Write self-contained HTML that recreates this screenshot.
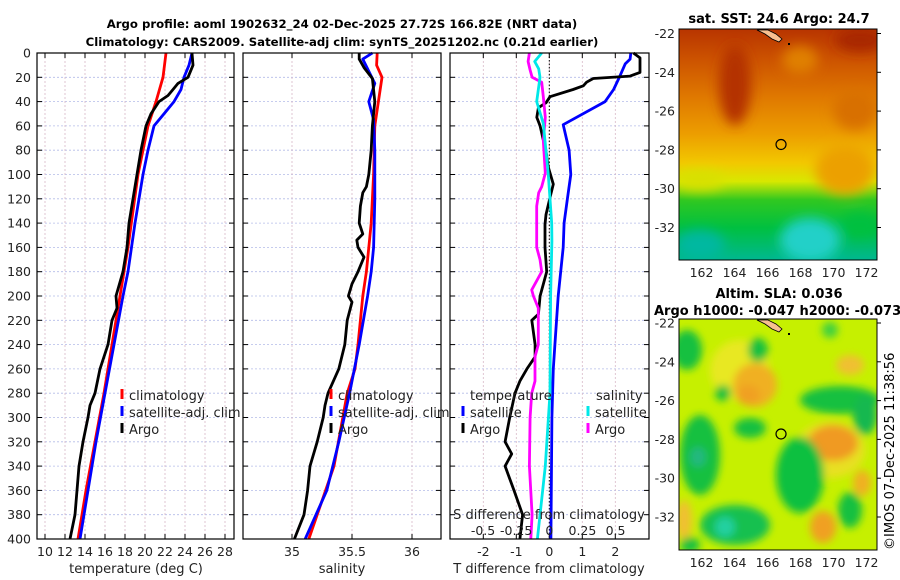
<!DOCTYPE html>
<html><head><meta charset="utf-8">
<style>
html,body{margin:0;padding:0;background:#fff;}
svg{display:block;font-family:"DejaVu Sans","Liberation Sans",sans-serif;}
</style></head>
<body>
<svg id="fig" width="900" height="580" viewBox="0 0 900 580" xmlns="http://www.w3.org/2000/svg">
<defs>
  <filter id="blur5" x="-20%" y="-20%" width="140%" height="140%"><feGaussianBlur stdDeviation="6"/></filter>
  <filter id="blur3" x="-20%" y="-20%" width="140%" height="140%"><feGaussianBlur stdDeviation="4"/></filter>
  <clipPath id="clipSST"><rect x="679" y="29" width="198" height="231"/></clipPath>
  <clipPath id="clipSLA"><rect x="679" y="319" width="198" height="231"/></clipPath>
  <linearGradient id="sstGrad" x1="0" y1="0" x2="0" y2="1">
    <stop offset="0" stop-color="#b83400"/>
    <stop offset="0.13" stop-color="#cc5200"/>
    <stop offset="0.3" stop-color="#e07a00"/>
    <stop offset="0.45" stop-color="#ec9c00"/>
    <stop offset="0.58" stop-color="#f2c800"/>
    <stop offset="0.66" stop-color="#d8e800"/>
    <stop offset="0.74" stop-color="#30c820"/>
    <stop offset="0.86" stop-color="#00c040"/>
    <stop offset="1" stop-color="#00b890"/>
  </linearGradient>
</defs>
<text x="342" y="28" text-anchor="middle" font-size="11.7" font-weight="bold">Argo profile: aoml 1902632_24 02-Dec-2025 27.72S 166.82E (NRT data)</text>
<text x="342" y="46" text-anchor="middle" font-size="11.7" font-weight="bold">Climatology: CARS2009. Satellite-adj clim: synTS_20251202.nc (0.21d earlier)</text>

<!-- SST map -->
<g clip-path="url(#clipSST)">
  <rect x="679" y="29" width="198" height="231" fill="url(#sstGrad)"/>
  <g filter="url(#blur5)">
    <ellipse cx="735" cy="85" rx="16" ry="40" fill="#b43000"/>
    <ellipse cx="860" cy="40" rx="25" ry="12" fill="#a82800"/>
    <ellipse cx="800" cy="60" rx="18" ry="14" fill="#e08000"/>
    <ellipse cx="855" cy="110" rx="22" ry="20" fill="#d87000"/>
    <ellipse cx="845" cy="170" rx="30" ry="25" fill="#eca000"/>
    <ellipse cx="700" cy="180" rx="25" ry="10" fill="#d8e000"/>
    <ellipse cx="810" cy="240" rx="30" ry="22" fill="#20d0c8"/>
    <ellipse cx="700" cy="245" rx="25" ry="15" fill="#00b8a0"/>
    <ellipse cx="860" cy="225" rx="20" ry="12" fill="#00c040"/>
  </g>
</g>
<rect x="679" y="29" width="198" height="231" fill="none" stroke="#000" stroke-width="1"/>
<text x="779" y="23" text-anchor="middle" font-size="13" font-weight="bold">sat. SST: 24.6 Argo: 24.7</text>

<!-- SLA map -->
<g clip-path="url(#clipSLA)">
  <rect x="679" y="319" width="198" height="231" fill="#c6f000"/>
  <g filter="url(#blur3)">
    <ellipse cx="740" cy="370" rx="30" ry="30" fill="#e8e820"/>
    <ellipse cx="830" cy="450" rx="35" ry="28" fill="#e8e020"/>
    <ellipse cx="755" cy="385" rx="22" ry="22" fill="#f0b020"/>
    <ellipse cx="748" cy="395" rx="12" ry="10" fill="#f0a020"/>
    <ellipse cx="850" cy="365" rx="14" ry="10" fill="#f0c030"/>
    <ellipse cx="833" cy="443" rx="25" ry="18" fill="#f09a20"/>
    <ellipse cx="823" cy="527" rx="13" ry="16" fill="#f0a020"/>
    <ellipse cx="862" cy="483" rx="9" ry="13" fill="#f0b020"/>
    <ellipse cx="684" cy="520" rx="8" ry="20" fill="#f0c030"/>
    <ellipse cx="687" cy="350" rx="15" ry="20" fill="#18c040"/>
    <ellipse cx="758" cy="350" rx="10" ry="12" fill="#18c040"/>
    <ellipse cx="830" cy="330" rx="8" ry="8" fill="#40d040"/>
    <ellipse cx="840" cy="400" rx="40" ry="14" fill="#18c040"/>
    <ellipse cx="865" cy="415" rx="12" ry="20" fill="#18b850"/>
    <ellipse cx="750" cy="428" rx="16" ry="10" fill="#18c040"/>
    <ellipse cx="800" cy="475" rx="24" ry="38" fill="#10c040"/>
    <ellipse cx="700" cy="455" rx="20" ry="40" fill="#18c040"/>
    <ellipse cx="698" cy="457" rx="8" ry="10" fill="#20b880"/>
    <ellipse cx="735" cy="525" rx="35" ry="20" fill="#18c050"/>
    <ellipse cx="725" cy="527" rx="10" ry="10" fill="#20d0a0"/>
    <ellipse cx="850" cy="510" rx="12" ry="18" fill="#18c040"/>
    <ellipse cx="723" cy="393" rx="8" ry="8" fill="#18c040"/>
    <ellipse cx="690" cy="545" rx="10" ry="8" fill="#18c040"/>
  </g>
</g>
<rect x="679" y="319" width="198" height="231" fill="none" stroke="#000" stroke-width="1"/>
<text x="779" y="298" text-anchor="middle" font-size="13" font-weight="bold">Altim. SLA: 0.036</text>
<text x="654" y="315" font-size="13" font-weight="bold">Argo h1000: -0.047 h2000: -0.073</text>
<text transform="translate(894,550) rotate(-90)" font-size="13">©IMOS 07-Dec-2025 11:38:56</text>

<g id="plots"></g>

<script>
// ---------- Data ----------
const depthTicks = [0,20,40,60,80,100,120,140,160,180,200,220,240,260,280,300,320,340,360,380,400];
const tempTicks = [10,12,14,16,18,20,22,24,26,28];
const salTicks = [35,35.5,36];
const salTickLabels = ["35","35.5","36"];
const tdiffTicks = [-2,-1,0,1,2];
const sdiffTicks = [-0.5,-0.25,0,0.25,0.5];
const sdiffTickLabels = ["-0.5","-0.25","0","0.25","0.5"];

const tDepthClim = [0,20,40,60,80,100,130,160,200,240,280,320,360,400];
const tClim = [22.1,21.8,21.1,20.3,19.8,19.3,18.8,18.3,17.5,16.7,15.9,15.0,14.1,13.3];
const tDepthSat = [0,10,20,30,40,50,60,80,100,140,180,200,240,280,320,360,400];
const tSat = [24.7,24.4,23.9,23.6,22.9,21.9,20.9,20.3,19.8,19.0,18.3,17.8,16.9,16.0,15.1,14.3,13.5];
const tDepthArgo = [0,10,20,25,30,35,40,50,60,80,100,120,140,160,180,200,210,220,240,260,280,290,300,320,340,360,380,400];
const tArgo = [24.7,24.8,24.3,23.3,22.8,22.3,21.4,20.6,20.1,19.6,19.2,18.8,18.4,18.2,17.8,17.1,17.2,16.7,16.3,15.5,15.0,14.5,14.3,13.8,13.4,13.2,13.0,12.5];

const sDepthClim = [0,10,20,40,60,100,140,180,200,240,260,280,340,400];
const sClim = [35.71,35.705,35.75,35.72,35.69,35.68,35.66,35.62,35.59,35.55,35.525,35.46,35.35,35.14];
const sDepthSat = [0,5,15,25,40,55,80,120,160,180,200,240,280,320,360,400];
const sSat = [35.67,35.59,35.64,35.69,35.64,35.68,35.69,35.69,35.68,35.66,35.63,35.56,35.48,35.39,35.29,35.11];
const sDepthArgo = [0,5,12,21,40,60,80,100,110,115,126,140,149,154,160,168,180,190,200,205,220,240,260,280,290,300,320,340,360,380,400];
const sArgo = [35.56,35.56,35.6,35.67,35.69,35.67,35.66,35.64,35.62,35.59,35.57,35.56,35.59,35.54,35.55,35.6,35.55,35.5,35.47,35.5,35.46,35.44,35.39,35.3,35.275,35.26,35.21,35.15,35.13,35.1,35.02];

const dDepthSatT = [0,5,9,19,30,40,59,80,100,120,140,160,200,240,260,280,300,400];
const dSatT = [2.47,2.45,2.3,2.14,1.95,1.69,0.42,0.6,0.65,0.55,0.45,0.42,0.27,0.17,0.12,0.1,0.08,0.05];
const dDepthArgoT = [0,4,16,19,21,24,27,30,36,41,45,53,60,72,81,94,108,119,133,141,160,180,200,215,220,240,250,260,270,280,300,320,330,340,360,380,400];
const dArgoT = [2.55,2.75,2.75,2.45,1.33,1.13,1.03,0.72,0.02,-0.1,-0.33,-0.38,-0.28,-0.18,-0.1,-0.03,0.12,0.02,-0.1,-0.13,-0.13,-0.08,-0.28,-0.33,-0.53,-0.43,-0.43,-0.68,-0.89,-1.04,-1.2,-1.34,-1.14,-1.34,-1.07,-0.81,-0.89];
const dDepthSatS = [0,7,13,20,40,58,99,140,155,200,280,340,400];
const dSatS = [-0.057,-0.11,-0.08,-0.07,-0.095,-0.045,-0.008,0.018,0.02,0.01,0.005,-0.03,-0.09];
const dDepthArgoS = [0,7,14,20,24,36,53,72,99,110,115,126,140,160,170,180,195,200,210,240,250,270,280,300,340,380,400];
const dArgoS = [-0.15,-0.16,-0.145,-0.13,-0.057,-0.045,-0.03,-0.045,-0.03,-0.057,-0.08,-0.095,-0.095,-0.095,-0.07,-0.057,-0.133,-0.12,-0.083,-0.083,-0.108,-0.108,-0.133,-0.145,-0.15,-0.13,-0.14];

const lonTicks = [162,164,166,168,170,172];
const latTicks = [-22,-24,-26,-28,-30,-32];
const argoLon = 166.82, argoLat = -27.72;

// ---------- Axes ----------
const NS = "http://www.w3.org/2000/svg";
const root = document.getElementById("plots");
const PT = 53, PB = 539;
const yDepth = d => PT + d * (PB - PT) / 400;
const xTemp = t => 45 + (t - 10) * 10;
const xSal = s => 292 + (s - 35) * 120;
const xTd = v => 549.3 + v * 33;
const xSd = v => 549.3 + v * 132.5;
const xLon = l => 701.5 + (l - 162) * 16.5;
const yLatTop = l => 33.5 + (-22 - l) * 19.4;
const yLatBot = l => 323 + (-22 - l) * 19.4;

function el(tag, attrs, parent) {
  const e = document.createElementNS(NS, tag);
  for (const k in attrs) e.setAttribute(k, attrs[k]);
  (parent || root).appendChild(e);
  return e;
}

const panels = [
  {x0:37, x1:234, name:"temperature-panel"},
  {x0:243, x1:441, name:"salinity-panel"},
  {x0:450, x1:649, name:"difference-panel"}
];

panels.forEach((p, i) => {
  const g = el("g", {});
  
  
  depthTicks.forEach(d => {
    const l = el("line", {x1:p.x0, x2:p.x1, y1:yDepth(d), y2:yDepth(d), stroke:"#b4bce8", "stroke-width":0.8, "stroke-dasharray":"2,2"}, g);
    
    
    const t1 = el("line", {x1:p.x0, x2:p.x0+5, y1:yDepth(d), y2:yDepth(d), stroke:"#000"}, g);
    
    
    const t2 = el("line", {x1:p.x1-5, x2:p.x1, y1:yDepth(d), y2:yDepth(d), stroke:"#000"}, g);
    
    
  });
  p.g = g;
});

depthTicks.forEach(d => {
  const t = el("text", {x:31, y:yDepth(d)+4.5, "text-anchor":"end", "font-size":12.5, fill:"#222"});
  t.textContent = d;
  
  
});

function vgrid(p, xs, xf) {
  xs.forEach(v => {
    const l = el("line", {x1:xf(v), x2:xf(v), y1:PT, y2:PB, stroke:"#d8b8c8", "stroke-width":0.8, "stroke-dasharray":"2,2"}, p.g);
    
    
    const t = el("line", {x1:xf(v), x2:xf(v), y1:PB-5, y2:PB, stroke:"#000"}, p.g);
    
    
    const t2 = el("line", {x1:xf(v), x2:xf(v), y1:PT, y2:PT+5, stroke:"#000"}, p.g);
    
    
  });
}
vgrid(panels[0], tempTicks, xTemp);
vgrid(panels[1], salTicks, xSal);
vgrid(panels[2], tdiffTicks, xTd);

tempTicks.forEach(v => {
  const t = el("text", {x:xTemp(v), y:556, "text-anchor":"middle", "font-size":12.5, fill:"#222"});
  t.textContent = v;
  
  
});
salTicks.forEach((v, i) => {
  const t = el("text", {x:xSal(v), y:556, "text-anchor":"middle", "font-size":12.5, fill:"#222"});
  t.textContent = salTickLabels[i];
  
  
});
tdiffTicks.forEach(v => {
  const t = el("text", {x:xTd(v), y:556, "text-anchor":"middle", "font-size":12.5, fill:"#222"});
  t.textContent = v;
  
  
});
sdiffTicks.forEach((v, i) => {
  const t = el("text", {x:xSd(v), y:535, "text-anchor":"middle", "font-size":12.5, fill:"#222"});
  t.textContent = sdiffTickLabels[i];
  
  
});

const axTitles = [[136,"temperature (deg C)","temperature-axis-title",573],[342,"salinity","salinity-axis-title",573],[549,"T difference from climatology","t-diff-axis-title",573],[549,"S difference from climatology","s-diff-axis-title",519]];
axTitles.forEach(a => {
  const t = el("text", {x:a[0], y:a[3], "text-anchor":"middle", "font-size":13, fill:"#222"});
  t.textContent = a[1];
  
  
});

const zl = el("line", {x1:xTd(0), x2:xTd(0), y1:PT, y2:PB, stroke:"#000", "stroke-width":1, "stroke-dasharray":"1.5,2"}, panels[2].g);



function series(g, depths, vals, xf, color, name) {
  const pts = depths.map((d, i) => xf(vals[i]).toFixed(1) + "," + yDepth(d).toFixed(1)).join(" ");
  const pl = el("polyline", {points:pts, fill:"none", stroke:color, "stroke-width":2.8, "stroke-linejoin":"round"}, g);
  
  
}
series(panels[0].g, tDepthClim, tClim, xTemp, "#ff0000", "temperature-climatology-line");
series(panels[0].g, tDepthSat, tSat, xTemp, "#0000ff", "temperature-satellite-line");
series(panels[0].g, tDepthArgo, tArgo, xTemp, "#000000", "temperature-argo-line");
series(panels[1].g, sDepthClim, sClim, xSal, "#ff0000", "salinity-climatology-line");
series(panels[1].g, sDepthSat, sSat, xSal, "#0000ff", "salinity-satellite-line");
series(panels[1].g, sDepthArgo, sArgo, xSal, "#000000", "salinity-argo-line");
series(panels[2].g, dDepthSatT, dSatT, xTd, "#0000ff", "t-diff-satellite-line");
series(panels[2].g, dDepthArgoT, dArgoT, xTd, "#000000", "t-diff-argo-line");
series(panels[2].g, dDepthArgoS, dArgoS, xSd, "#ff00ff", "s-diff-argo-line");
series(panels[2].g, dDepthSatS, dSatS, xSd, "#00e8e8", "s-diff-satellite-line");

panels.forEach(p => {
  const r = el("rect", {x:p.x0, y:PT, width:p.x1-p.x0, height:PB-PT, fill:"none", stroke:"#000", "stroke-width":1.2}, p.g);
  
  
});

const legends = [
  [122,400,"#ff0000","climatology"],[122,417,"#0000ff","satellite-adj. clim"],[122,434,"#000000","Argo"],
  [331,400,"#ff0000","climatology"],[331,417,"#0000ff","satellite-adj. clim"],[331,434,"#000000","Argo"],
  [463,417,"#0000ff","satellite"],[463,434,"#000000","Argo"],
  [588,417,"#00e8e8","satellite"],[588,434,"#ff00ff","Argo"]
];
legends.forEach(L => {
  const m = el("line", {x1:L[0], x2:L[0], y1:L[1]-11, y2:L[1]-1, stroke:L[2], "stroke-width":3});
  
  
  const t = el("text", {x:L[0]+7, y:L[1], "font-size":13, fill:"#222"});
  t.textContent = L[3];
  
  
});
const lh1 = el("text", {x:470, y:400, "font-size":13, fill:"#222"});
lh1.textContent = "temperature";


const lh2 = el("text", {x:596, y:400, "font-size":13, fill:"#222"});
lh2.textContent = "salinity";



[[yLatTop,29,260,"sst"],[yLatBot,319,550,"sla"]].forEach(M => {
  const yf = M[0];
  latTicks.forEach(l => {
    const t = el("text", {x:675, y:yf(l)+4.5, "text-anchor":"end", "font-size":12.5, fill:"#222"});
    t.textContent = l;
    
    
    const tk = el("line", {x1:877, x2:881, y1:yf(l), y2:yf(l), stroke:"#000"});
    
    
  });
  lonTicks.forEach(l => {
    const t = el("text", {x:xLon(l), y:M[2]+17, "text-anchor":"middle", "font-size":12.5, fill:"#222"});
    t.textContent = l;
    
    
  });
  const land = el("path", {d:"M757,"+(M[1]+1)+" L765,"+(M[1]+5)+" L772,"+(M[1]+10)+" L779,"+(M[1]+13)+" L782,"+(M[1]+10)+" L776,"+(M[1]+5)+" L768,"+(M[1]+1)+" Z", fill:"#f8c090", stroke:"#000", "stroke-width":0.8});
  
  
  const isl = el("rect", {x:788, y:M[1]+14, width:2, height:2, fill:"#000"});
  
  
  const c = el("circle", {cx:xLon(argoLon), cy:yf(argoLat), r:5, fill:"none", stroke:"#000", "stroke-width":1.2});
  
  
});
</script>
</svg>
</body></html>
